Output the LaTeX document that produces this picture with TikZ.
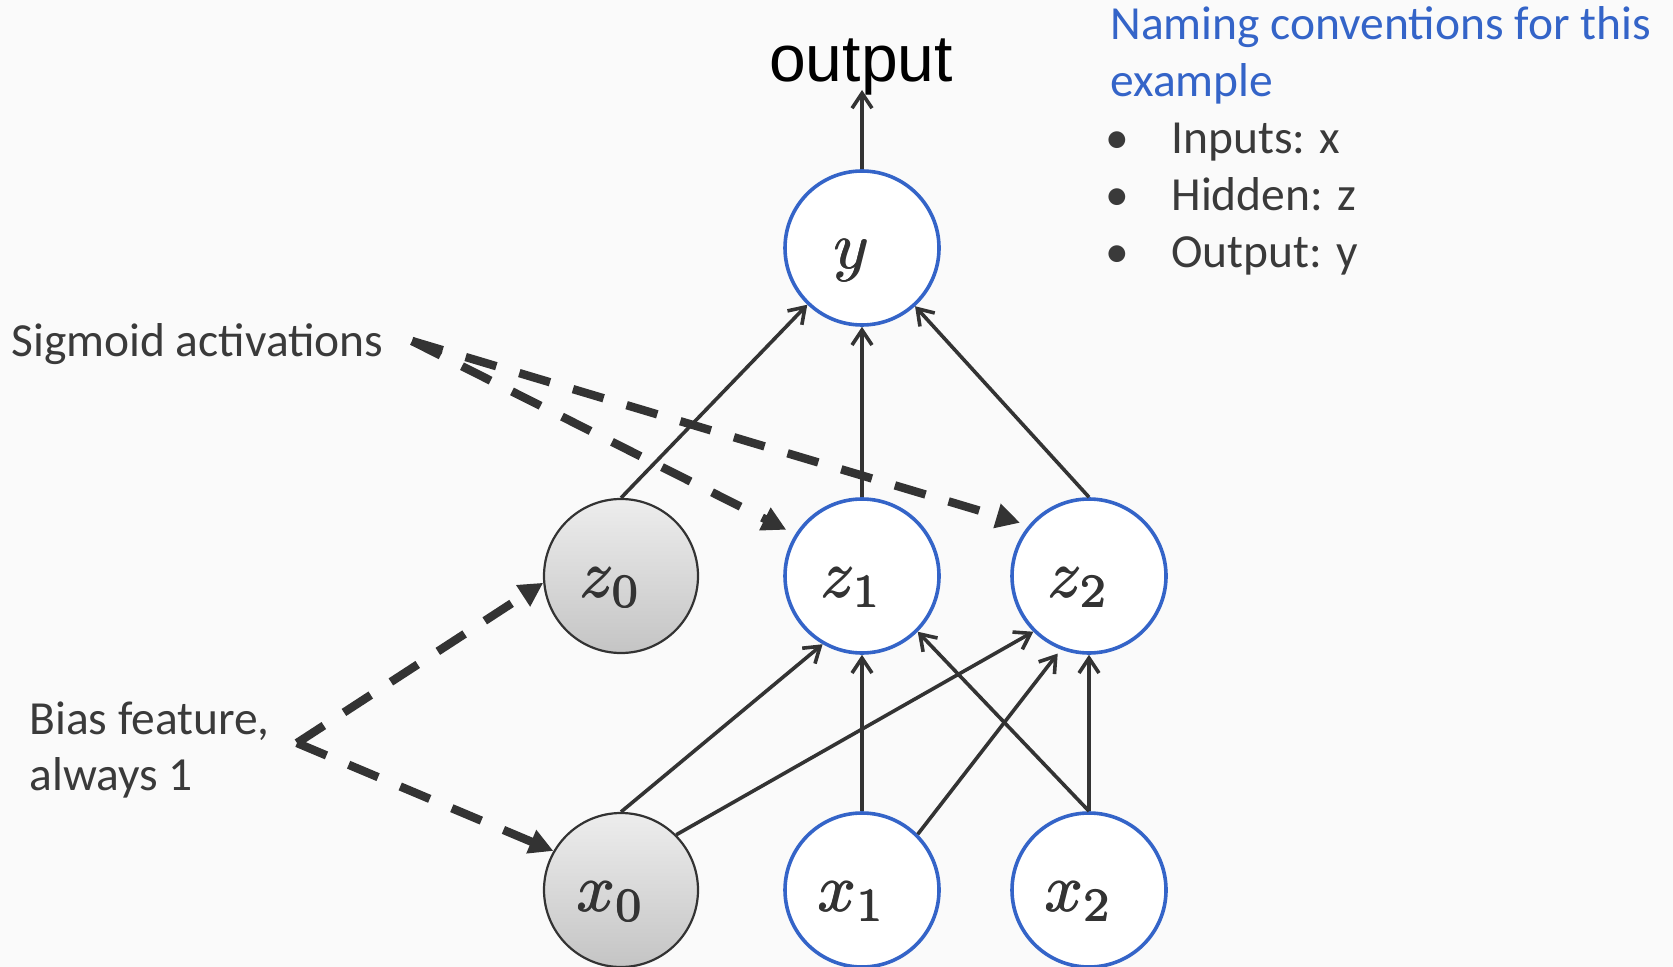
\documentclass[tikz,border=0pt]{standalone}
\usepackage{graphicx}
\usepackage{fontspec}
\setmainfont{Carlito}
\newfontfamily\arialfont{Liberation Sans}
\usetikzlibrary{arrows.meta,calc}

\definecolor{nodeblue}{RGB}{52,100,200}
\definecolor{ink}{RGB}{51,51,51}
\definecolor{textgray}{RGB}{58,58,58}
\definecolor{paper}{RGB}{250,250,250}

% unit labels: slightly heavier math, enlarged to fit the circles
\newcommand{\heavymath}[1]{%
  \rlap{$#1$}\rlap{\raisebox{0.1pt}{$#1$}}\kern0.13pt$#1$}
\newcommand{\unitlabel}[1]{%
  \raisebox{-10.5pt}[0pt][0pt]{\makebox[0pt]{\hspace*{-10pt}%
    \scalebox{3.35}{\heavymath{#1}}}}}

\tikzset{
  unit/.style={circle, minimum size=77pt, inner sep=0pt, text=ink},
  active/.style={unit, draw=nodeblue, line width=1.8pt, fill=white},
  biasunit/.style={unit, draw=ink, line width=1.1pt,
    top color=gray!14, bottom color=gray!46},
  link/.style={draw=ink, line width=1.8pt,
    -{Straight Barb[length=7.5pt,width=10pt]}},
  pointer/.style={draw=ink, line width=4.2pt, dash pattern=on 16pt off 12pt,
    -{Triangle[length=12pt,width=12pt]}},
  caption/.style={font=\fontsize{23.75}{28}\selectfont, text=textgray,
    inner sep=0pt, anchor=base west},
}

\begin{document}
\begin{tikzpicture}[x=0.5pt,y=-0.5pt]
  \useasboundingbox (0,0) rectangle (1673,967);
  \fill[paper] (0,0) rectangle (1673,967);

  % network units
  \node[active]   (y)  at (862,248) {\unitlabel{y}};
  \node[biasunit] (z0) at (621,576) {\unitlabel{z_0}};
  \node[active]   (z1) at (862,576) {\unitlabel{z_1}};
  \node[active]   (z2) at (1089,576) {\unitlabel{z_2}};
  \node[biasunit] (x0) at (621,890) {\unitlabel{x_0}};
  \node[active]   (x1) at (862,890) {\unitlabel{x_1}};
  \node[active]   (x2) at (1089,890) {\unitlabel{x_2}};

  % output label
  \node[font=\arialfont\fontsize{33}{40}\selectfont, text=black,
        inner sep=0pt, anchor=base] (output) at (861,82) {output};
  \coordinate (outtip) at ($(output.base)+(0,8)$);
  \draw[link] (y.north) -- (y.north |- outtip);

  % hidden -> output
  \draw[link] (z0.north) -- (y);
  \draw[link] (z1) -- (y);
  \draw[link] (z2.north) -- (y);

  % input -> hidden
  \draw[link] (x0.north) -- (z1.240);
  \draw[link] (x0.45) -- (z2.225);
  \draw[link] (x1) -- (z1);
  \draw[link, shorten >=2.5pt] (x1.45) -- (z2.249);
  \draw[link] (x2.north) -- (z1.-45);
  \draw[link] (x2) -- (z2);

  % annotations
  \node[caption] (sigtext) at (11,357) {Sigmoid activations};
  \node[caption, align=left] (biastext) at (29,790)
    {Bias feature,\\[0pt]always 1};

  \coordinate (sig) at (412,341);
  \draw[pointer, shorten >=4.5pt] (sig) -- (z2.140);
  \draw[pointer, shorten >=5pt] (sig) -- (z1.148);

  \coordinate (bias) at (297,743);
  \draw[pointer] (bias) -- (z0.185);
  \draw[pointer] (bias) -- (x0.150);

  % naming legend
  \node[caption, text=nodeblue] (legtitle) at (1110,40) {Naming conventions for this};
  \node[caption, text=nodeblue] (legtitle2) at (1110,97) {example};
  \node[caption, anchor=base] (b1) at (1117,154) {•};
  \node[caption] (l1) at (1171,154) {Inputs: x};
  \node[caption, anchor=base] (b2) at (1117,211) {•};
  \node[caption] (l2) at (1171,211) {Hidden: z};
  \node[caption, anchor=base] (b3) at (1117,268) {•};
  \node[caption] (l3) at (1171,268) {Output: y};
\end{tikzpicture}
\end{document}
